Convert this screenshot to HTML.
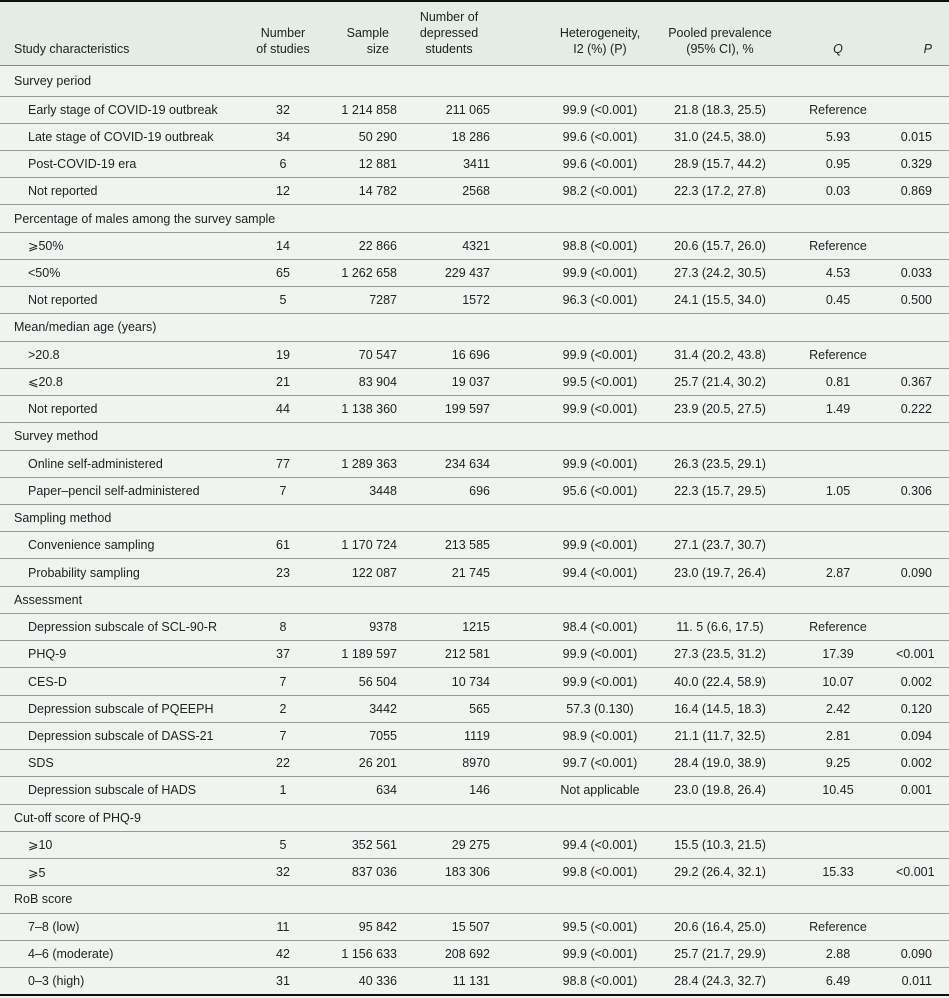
<!DOCTYPE html>
<html><head><meta charset="utf-8"><style>
html,body{margin:0;padding:0;background:#f0f4f1;}
body{width:949px;height:998px;overflow:hidden;font-family:"Liberation Sans",sans-serif;font-size:12.5px;color:#222;}
table{border-collapse:collapse;table-layout:fixed;width:949px;border-top:2px solid #111;border-bottom:2px solid #111;background:#f0f4f1;}
th{background:#e5ebe6;font-weight:normal;box-sizing:border-box;vertical-align:bottom;padding:0 0 8px 0;line-height:16px;text-align:center;border-bottom:1.5px solid #888;}
td{height:26.24px;padding:0;border-bottom:1px solid #999;white-space:nowrap;}
tr.first td{height:30px;}
td.l{padding-left:14px;}
tr.sub td.l{padding-left:28px;}
.c{text-align:center;}
.r{text-align:right;}
.p5{padding-right:5px;}
.p50{padding-right:50px;}
.p17{padding-right:17px;}
</style></head><body>
<table>
<colgroup><col style="width:236px"><col style="width:94px"><col style="width:72px"><col style="width:138px"><col style="width:120px"><col style="width:120px"><col style="width:116px"><col style="width:53px"></colgroup>
<thead><tr style="height:64px">
<th style="text-align:left;padding-left:14px">Study characteristics</th>
<th>Number<br>of studies</th>
<th style="text-align:right;padding-right:13px">Sample<br>size</th>
<th style="padding-right:44px">Number of<br>depressed<br>students</th>
<th>Heterogeneity,<br>I2 (%) (P)</th>
<th>Pooled prevalence<br>(95% CI), %</th>
<th><i>Q</i></th>
<th style="text-align:right;padding-right:17px"><i>P</i></th>
</tr></thead>
<tbody id="tb"></tbody></table>
<script>
const rows=[
["Survey period"],
["Early stage of COVID-19 outbreak","32","1 214 858","211 065","99.9 (<0.001)","21.8 (18.3, 25.5)","Reference",""],
["Late stage of COVID-19 outbreak","34","50 290","18 286","99.6 (<0.001)","31.0 (24.5, 38.0)","5.93","0.015"],
["Post-COVID-19 era","6","12 881","3411","99.6 (<0.001)","28.9 (15.7, 44.2)","0.95","0.329"],
["Not reported","12","14 782","2568","98.2 (<0.001)","22.3 (17.2, 27.8)","0.03","0.869"],
["Percentage of males among the survey sample"],
["⩾50%","14","22 866","4321","98.8 (<0.001)","20.6 (15.7, 26.0)","Reference",""],
["<50%","65","1 262 658","229 437","99.9 (<0.001)","27.3 (24.2, 30.5)","4.53","0.033"],
["Not reported","5","7287","1572","96.3 (<0.001)","24.1 (15.5, 34.0)","0.45","0.500"],
["Mean/median age (years)"],
[">20.8","19","70 547","16 696","99.9 (<0.001)","31.4 (20.2, 43.8)","Reference",""],
["⩽20.8","21","83 904","19 037","99.5 (<0.001)","25.7 (21.4, 30.2)","0.81","0.367"],
["Not reported","44","1 138 360","199 597","99.9 (<0.001)","23.9 (20.5, 27.5)","1.49","0.222"],
["Survey method"],
["Online self-administered","77","1 289 363","234 634","99.9 (<0.001)","26.3 (23.5, 29.1)","",""],
["Paper–pencil self-administered","7","3448","696","95.6 (<0.001)","22.3 (15.7, 29.5)","1.05","0.306"],
["Sampling method"],
["Convenience sampling","61","1 170 724","213 585","99.9 (<0.001)","27.1 (23.7, 30.7)","",""],
["Probability sampling","23","122 087","21 745","99.4 (<0.001)","23.0 (19.7, 26.4)","2.87","0.090"],
["Assessment"],
["Depression subscale of SCL-90-R","8","9378","1215","98.4 (<0.001)","11. 5 (6.6, 17.5)","Reference",""],
["PHQ-9","37","1 189 597","212 581","99.9 (<0.001)","27.3 (23.5, 31.2)","17.39","<0.001"],
["CES-D","7","56 504","10 734","99.9 (<0.001)","40.0 (22.4, 58.9)","10.07","0.002"],
["Depression subscale of PQEEPH","2","3442","565","57.3 (0.130)","16.4 (14.5, 18.3)","2.42","0.120"],
["Depression subscale of DASS-21","7","7055","1119","98.9 (<0.001)","21.1 (11.7, 32.5)","2.81","0.094"],
["SDS","22","26 201","8970","99.7 (<0.001)","28.4 (19.0, 38.9)","9.25","0.002"],
["Depression subscale of HADS","1","634","146","Not applicable","23.0 (19.8, 26.4)","10.45","0.001"],
["Cut-off score of PHQ-9"],
["⩾10","5","352 561","29 275","99.4 (<0.001)","15.5 (10.3, 21.5)","",""],
["⩾5","32","837 036","183 306","99.8 (<0.001)","29.2 (26.4, 32.1)","15.33","<0.001"],
["RoB score"],
["7–8 (low)","11","95 842","15 507","99.5 (<0.001)","20.6 (16.4, 25.0)","Reference",""],
["4–6 (moderate)","42","1 156 633","208 692","99.9 (<0.001)","25.7 (21.7, 29.9)","2.88","0.090"],
["0–3 (high)","31","40 336","11 131","98.8 (<0.001)","28.4 (24.3, 32.7)","6.49","0.011"]
];
const cls=["l","c","r p5","r p50","c","c","c","r p17"];
const tb=document.getElementById('tb');
rows.forEach((r,k)=>{
  const tr=document.createElement('tr');
  
  
  if(r.length===1){
    if(k===0) tr.className='first';
    const td=document.createElement('td');td.colSpan=8;td.className='l';td.textContent=r[0];
    
    
    tr.appendChild(td);
  } else {
    tr.className='sub';
    r.forEach((v,i)=>{const td=document.createElement('td');td.className=cls[i];td.textContent=v;
      
      
      tr.appendChild(td);});
  }
  tb.appendChild(tr);
});
</script>
</body></html>
